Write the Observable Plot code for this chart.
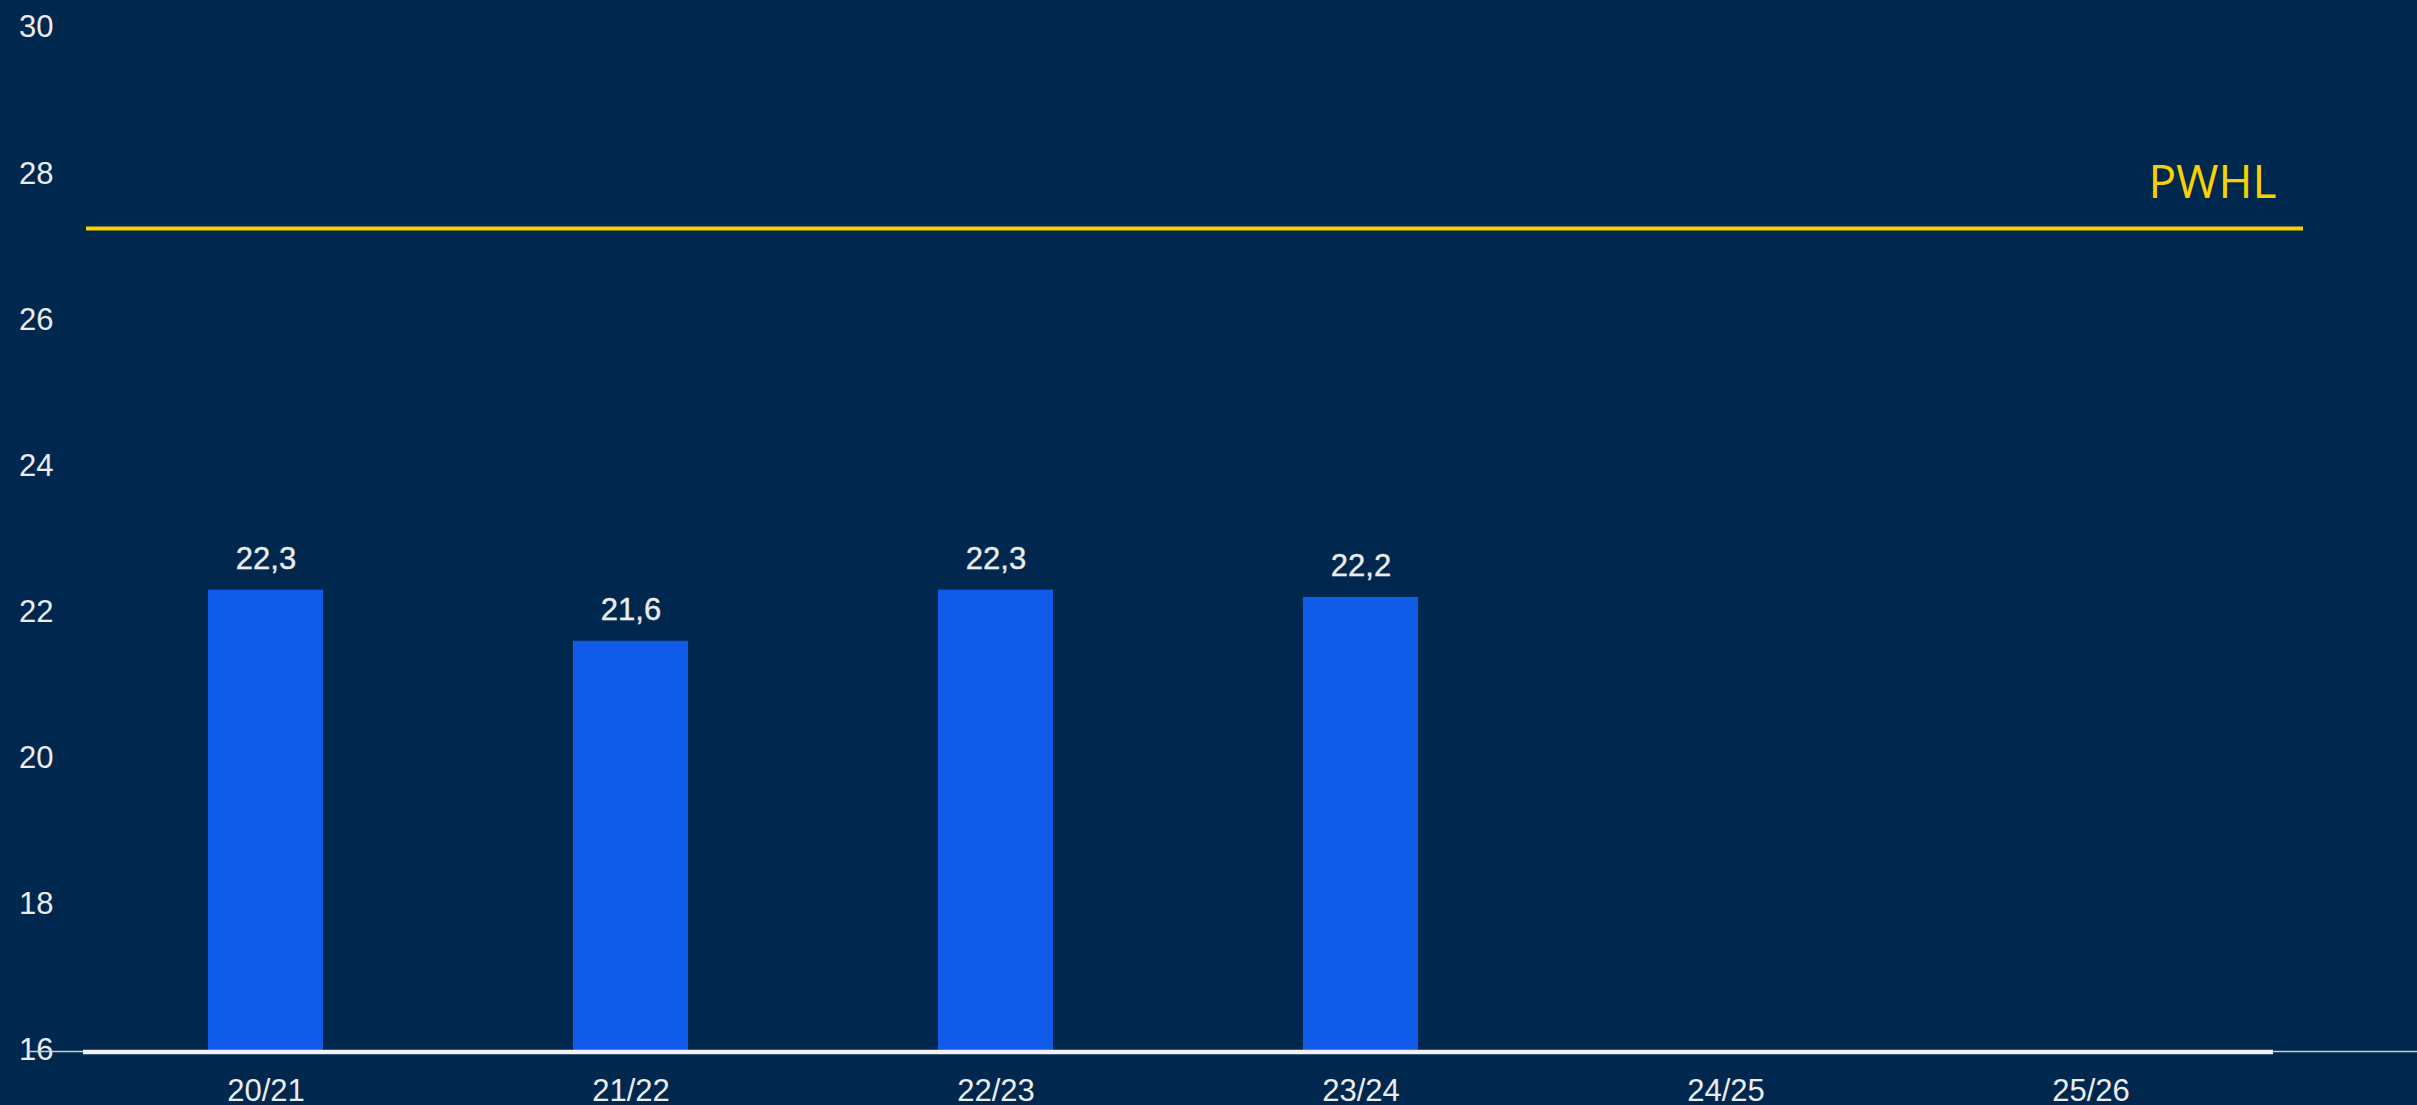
<!DOCTYPE html>
<html>
<head>
<meta charset="utf-8">
<script src="https://cdn.jsdelivr.net/npm/d3@7"></script>
<script src="https://cdn.jsdelivr.net/npm/@observablehq/plot@0.6"></script>
<style>
  html, body { margin: 0; padding: 0; background: #00284f; }
  #chart svg { display: block; }
</style>
</head>
<body>
<div id="chart"></div>
<script>
// ---- data ----
const seasons = ["20/21", "21/22", "22/23", "23/24", "24/25", "25/26"];
const averages = [22.3, 21.6, 22.3, 22.2, null, null];
const referenceLabel = "PWHL";
const referenceValue = 27.25;
const yDomain = [16, 30];
const yTicks = [16, 18, 20, 22, 24, 26, 28, 30];

// ---- styling ----
const bg = "#00284f";
const barColor = "#105be9";
const yellow = "#f7d100";
const textColor = "#ececec";

const rows = seasons.map((s, i) => ({season: s, value: averages[i]}));
const withValues = rows.filter(d => d.value != null);
const fmt = d3.formatLocale({decimal: ",", thousands: ".", grouping: [3], currency: ["", ""]}).format(".1f");

const chart = Plot.plot({
  width: 2417,
  height: 1105,
  marginTop: 27,
  marginBottom: 55,
  marginLeft: 83,
  marginRight: 144,
  style: {
    background: bg,
    color: textColor,
    fontFamily: "'Liberation Sans', Arial, sans-serif",
    fontSize: "31px"
  },
  x: {domain: seasons, paddingInner: 0.685, paddingOuter: 0.3425, axis: null},
  y: {domain: yDomain, axis: null},
  marks: [
    Plot.axisY({ticks: yTicks, tickSize: 0, tickPadding: 30, fill: textColor, fontSize: 31, label: null}),
    Plot.axisX({tickSize: 0, tickPadding: 28, fill: textColor, fontSize: 31, label: null}),
    Plot.barY(withValues, {x: "season", y1: () => yDomain[0], y2: "value", fill: barColor}),
    Plot.text(withValues, {
      x: "season", y: "value", text: d => fmt(d.value),
      lineAnchor: "bottom", dy: -21, fill: textColor, fontSize: 31,
      fontFamily: "'Liberation Sans', Arial, sans-serif",
      stroke: textColor, strokeWidth: 0.4
    }),
    Plot.ruleY([yDomain[0]], {stroke: "#c6ceda", strokeWidth: 1.6, insetLeft: -55, insetRight: -144, dy: 1}),
    Plot.ruleY([yDomain[0]], {stroke: "#f2f2f2", strokeWidth: 4.5, dy: 1.5}),
    Plot.ruleY([referenceValue], {stroke: yellow, strokeWidth: 4, insetLeft: 3, insetRight: -30}),
    Plot.text([referenceValue], {
      y: d => d, text: () => referenceLabel, frameAnchor: "right",
      textAnchor: "end", lineAnchor: "bottom", dx: 3, dy: -30,
      fill: yellow, fontSize: 46, fontFamily: "'Open Sans', sans-serif"
    })
  ]
});
document.getElementById("chart").appendChild(chart);
</script>
</body>
</html>
